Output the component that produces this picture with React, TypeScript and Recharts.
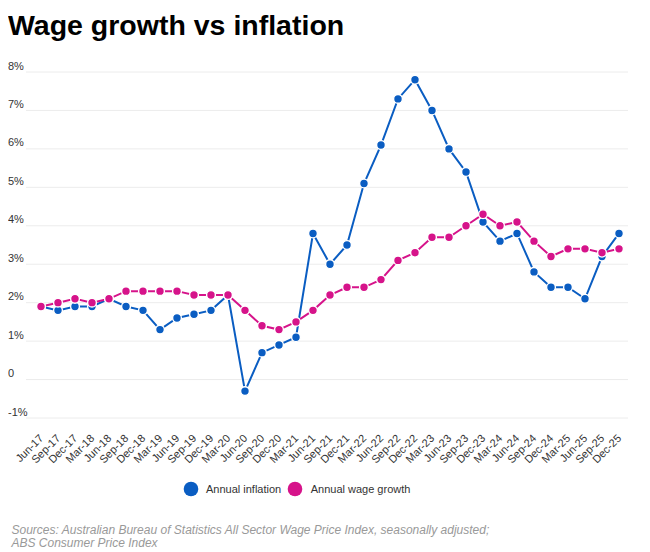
import React from "react";
import { LineChart, Line, XAxis, YAxis, CartesianGrid } from "recharts";

const quarters = [
  "Jun-17", "Sep-17", "Dec-17",
  "Mar-18", "Jun-18", "Sep-18", "Dec-18",
  "Mar-19", "Jun-19", "Sep-19", "Dec-19",
  "Mar-20", "Jun-20", "Sep-20", "Dec-20",
  "Mar-21", "Jun-21", "Sep-21", "Dec-21",
  "Mar-22", "Jun-22", "Sep-22", "Dec-22",
  "Mar-23", "Jun-23", "Sep-23", "Dec-23",
  "Mar-24", "Jun-24", "Sep-24", "Dec-24",
  "Mar-25", "Jun-25", "Sep-25", "Dec-25",
];

const inflation = [
  1.9, 1.8, 1.9,
  1.9, 2.1, 1.9, 1.8,
  1.3, 1.6, 1.7, 1.8,
  2.2, -0.3, 0.7, 0.9,
  1.1, 3.8, 3.0, 3.5,
  5.1, 6.1, 7.3, 7.8,
  7.0, 6.0, 5.4, 4.1,
  3.6, 3.8, 2.8, 2.4,
  2.4, 2.1, 3.2, 3.8,
];

const wageGrowth = [
  1.9, 2.0, 2.1,
  2.0, 2.1, 2.3, 2.3,
  2.3, 2.3, 2.2, 2.2,
  2.2, 1.8, 1.4, 1.3,
  1.5, 1.8, 2.2, 2.4,
  2.4, 2.6, 3.1, 3.3,
  3.7, 3.7, 4.0, 4.3,
  4.0, 4.1, 3.6, 3.2,
  3.4, 3.4, 3.3, 3.4,
];

const yTicks = [-1, 0, 1, 2, 3, 4, 5, 6, 7, 8];
const yTickLabels = ["-1%", "0", "1%", "2%", "3%", "4%", "5%", "6%", "7%", "8%"];

const seriesNames = ["Annual inflation", "Annual wage growth"];
const titleText = "Wage growth vs inflation";
const sourceLines = [
  "Sources: Australian Bureau of Statistics All Sector Wage Price Index, seasonally adjusted;",
  "ABS Consumer Price Index",
];

const BLUE = "#0a5dc2";
const PINK = "#d6138a";
const FONT = "'Liberation Sans', Arial, Helvetica, sans-serif";

const data = quarters.map((q, i) => ({
  q,
  inflation: inflation[i],
  wage: wageGrowth[i],
}));

const YTick = (props: any) => {
  const { y, payload } = props;
  const idx = yTicks.indexOf(payload.value);
  return (
    <text x={0} y={y - 2.5} fontSize={11} fill="#333" fontFamily={FONT} textAnchor="start">
      {idx >= 0 ? yTickLabels[idx] : String(payload.value)}
    </text>
  );
};

const XTick = (props: any) => {
  const { x, y, payload } = props;
  const ax = x + 3;
  const ay = y + 13;
  return (
    <text
      x={ax}
      y={ay}
      fontSize={11}
      fill="#333"
      fontFamily={FONT}
      textAnchor="end"
      transform={`rotate(-45, ${ax}, ${ay})`}
    >
      {payload.value}
    </text>
  );
};

export default function App() {
  const W = 634;
  const H = 536;
  const FULL_H = 544;
  return (
    <div style={{ position: "relative", width: W, height: FULL_H, fontFamily: FONT }}>
      <div style={{ position: "absolute", left: 0, top: 0 }}>
        <LineChart
          width={W}
          height={H}
          data={data}
          margin={{ top: 64, right: 14, bottom: 66, left: 0 }}
        >
          <CartesianGrid horizontal={true} vertical={false} stroke="#ececec" strokeWidth={1} />
          <XAxis
            dataKey="q"
            scale="point"
            interval={0}
            height={60}
            padding={{ left: 15, right: 9 }}
            axisLine={false}
            tickLine={false}
            tick={<XTick />}
          />
          <YAxis
            width={18}
            domain={[-1, 8]}
            ticks={yTicks}
            type="number"
            axisLine={false}
            tickLine={false}
            tick={<YTick />}
            interval={0}
          />
          <Line
            type="linear"
            dataKey="inflation"
            name={seriesNames[0]}
            stroke={BLUE}
            strokeWidth={2}
            dot={{ r: 4.4, fill: BLUE, stroke: "#fff", strokeWidth: 1.4 }}
            activeDot={false}
            isAnimationActive={false}
          />
          <Line
            type="linear"
            dataKey="wage"
            name={seriesNames[1]}
            stroke={PINK}
            strokeWidth={2}
            dot={{ r: 4.4, fill: PINK, stroke: "#fff", strokeWidth: 1.4 }}
            activeDot={false}
            isAnimationActive={false}
          />
        </LineChart>
      </div>
      <svg
        width={W}
        height={FULL_H}
        style={{ position: "absolute", left: 0, top: 0, pointerEvents: "none" }}
      >
        <text x={0} y={27} fontSize={28.5} fontWeight="bold" fill="#000" fontFamily={FONT}>
          {titleText}
        </text>
        <circle cx={183} cy={481} r={7.3} fill={BLUE} />
        <text x={198} y={485} fontSize={11} fill="#333" fontFamily={FONT}>
          {seriesNames[0]}
        </text>
        <circle cx={287} cy={481} r={7.3} fill={PINK} />
        <text x={302.7} y={485} fontSize={11} fill="#333" fontFamily={FONT}>
          {seriesNames[1]}
        </text>
        <text x={3.5} y={526} fontSize={12} fontStyle="italic" fill="#999" fontFamily={FONT}>
          {sourceLines[0]}
        </text>
        <text x={3.5} y={538.5} fontSize={12} fontStyle="italic" fill="#999" fontFamily={FONT}>
          {sourceLines[1]}
        </text>
      </svg>
    </div>
  );
}
